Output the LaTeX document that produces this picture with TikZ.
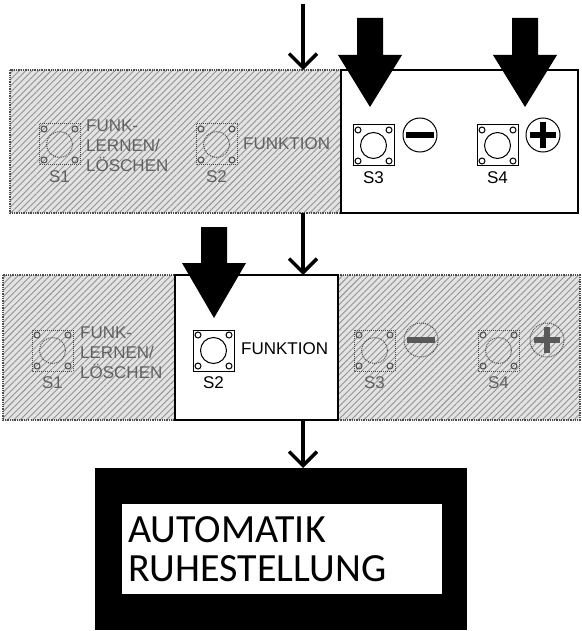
\documentclass[tikz,border=0pt]{standalone}
\usepackage{fontspec}
\setmainfont{Liberation Sans}
\newfontfamily\displayfont{Carlito}
\usetikzlibrary{
	arrows.meta,
	patterns.meta,
	positioning
}

\tikzset{
	hatched/.style={fill=gray!22, postaction={pattern={Lines[angle=45, distance=4.5pt, line width=0.9pt]}, pattern color=gray!85}},
	hatchedge/.style={draw=black!70, densely dotted, line width=1.3pt},
	btnlive/.style={draw=black, line width=1pt},
	btnfaded/.style={draw=black!70, densely dotted, line width=1pt},
	lablive/.style={text=black, font=\fontsize{17}{20}\selectfont, inner sep=0},
	labfaded/.style={text=black!62, font=\fontsize{17}{20}\selectfont, inner sep=0},
	flow/.style={line width=3.5pt, -{Straight Barb[length=14pt, width=28pt, line width=3.5pt]}}
}

\begin{document}
\begin{tikzpicture}[x=1pt, y=-1pt]
	\useasboundingbox (0,0) rectangle (581,631);

	% upper row: S3 and S4 active
	\path[hatched] (10,70) rectangle (341,213);
	\draw[hatchedge] (10,70) rectangle (341,213);
	\draw[line width=1.3pt] (341,70) rectangle (578,213);

	% middle row: only S2 active
	\path[hatched] (3,275) rectangle (175,420);
	\path[hatched] (338,275) rectangle (580,420);
	\draw[hatchedge] (3,275) rectangle (175,420);
	\draw[hatchedge] (338,275) rectangle (580,420);
	\draw[line width=1.3pt] (175,275) rectangle (338,420);

	% push buttons
	\foreach \x/\y/\lab/\st in {39/124/S1/faded, 196/124/S2/faded, 353/125/S3/live, 477/125/S4/live,
			32/330/S1/faded, 193/330/S2/live, 354/330/S3/faded, 478/330/S4/faded} {
			\draw[btn\st] (\x,\y) rectangle ++(41,41);
			\draw[btn\st] (\x+20.5,\y+20.5) circle (13);
			\foreach \dx/\dy in {5/5, 36/5, 5/36, 36/36}
				\draw[btn\st, solid] (\x+\dx,\y+\dy) circle (3);
			\node[lab\st] (\lab-\y) at (\x+20.5,\y+53) {\lab};
		}

	% button texts
	\node[labfaded, anchor=west, align=left] (learn1) at (86,146) {FUNK-\\LERNEN/\\LÖSCHEN};
	\node[labfaded, anchor=west] (func1) at (243,144) {FUNKTION};
	\node[labfaded, anchor=west, align=left] (learn2) at (80,353) {FUNK-\\LERNEN/\\LÖSCHEN};
	\node[lablive, anchor=west] (func2) at (241,349) {FUNKTION};

	% minus / plus signs
	\draw[line width=1pt] (420,135) circle (17);
	\draw[line width=6pt] (406,135) -- (434,135);
	\draw[line width=1pt] (543,135) circle (17);
	\draw[line width=6pt] (530,135) -- (556,135);
	\draw[line width=6pt] (543,122) -- (543,148);
	\draw[btnfaded] (421,340) circle (17);
	\draw[line width=6pt, black!65] (407,340) -- (435,340);
	\draw[btnfaded] (547,340) circle (17);
	\draw[line width=6pt, black!65] (534,340) -- (560,340);
	\draw[line width=6pt, black!65] (547,327) -- (547,353);

	% big press arrows
	\foreach \cx/\yt/\yh/\yb in {370/18/55/107, 525/18/55/107, 214/227/263/318}
		\fill (\cx-13,\yt) -- (\cx+13,\yt) -- (\cx+13,\yh) -- (\cx+32,\yh) -- (\cx,\yb)
			-- (\cx-32,\yh) -- (\cx-13,\yh) -- cycle;

	% display
	\fill (95,468) rectangle (467,630);
	\fill[white] (122,504) rectangle (442,594);
	\node[anchor=north west, align=left, inner sep=0, font=\displayfont\fontsize{40}{39}\selectfont] (display) at (128,516) {AUTOMATIK\\RUHESTELLUNG};

	% sequence
	\coordinate (start) at (303,4);
	\coordinate (row1) at (303,70);
	\coordinate (row1out) at (303,213);
	\coordinate (row2) at (303,275);
	\coordinate (row2out) at (303,420);
	\coordinate (screen) at (303,468);
	\draw[flow] (start) -- (row1);
	\draw[flow] (row1out) -- (row2);
	\draw[flow] (row2out) -- (screen);

\end{tikzpicture}
\end{document}
